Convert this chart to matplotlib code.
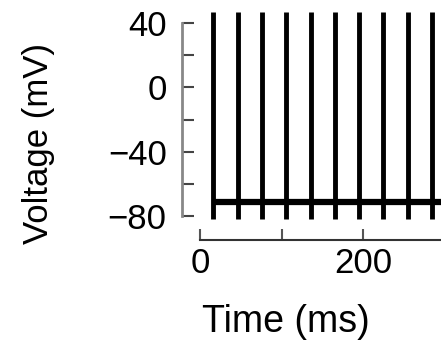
import matplotlib
matplotlib.use("Agg")
import matplotlib.pyplot as plt

# spike times (ms)
spike_times = [16.3, 46.9, 75.5, 105.3, 135.5, 165.2, 194.6, 223.6, 254.3, 283.6]
spike_top = 47      # mV, trace runs off the top
spike_bottom = -82  # mV, undershoot
baseline_mv = -71
t_end = 295

yticks_major = [-80, -40, 0, 40]
yticks_minor = [-60, -20, 20]
xticks_major = [0, 200]
xticks_minor = [100]

plt.rcParams['font.family'] = ['Liberation Sans', 'DejaVu Sans']

fig = plt.figure(figsize=(4.41, 3.42), dpi=100)
ax = fig.add_axes([182/441, 102/342, 259/441, 230/342])

# resting level
ax.plot([spike_times[0], t_end], [baseline_mv, baseline_mv], color='black', lw=4.5,
        solid_capstyle='butt', clip_on=False)
# spikes
for t in spike_times:
    ax.plot([t, t], [spike_bottom, spike_top], color='black', lw=3.5,
            solid_capstyle='butt', clip_on=False)

ax.set_xlim(-22, t_end)
ax.set_ylim(-94.9, 48.1)

ax.spines['top'].set_visible(False)
ax.spines['right'].set_visible(False)
ax.spines['left'].set_bounds(-80, 40)
ax.spines['bottom'].set_bounds(0, t_end)
ax.spines['left'].set_color('#888888')
ax.spines['left'].set_linewidth(2)
ax.spines['bottom'].set_color('#333333')
ax.spines['bottom'].set_linewidth(1.5)

ax.set_yticks(yticks_major)
ax.set_yticks(yticks_minor, minor=True)
ax.set_xticks(xticks_major)
ax.set_xticks(xticks_minor, minor=True)

ax.tick_params(axis='y', which='both', direction='in', length=8.6, width=1.5,
               color='#444444', labelsize=25, pad=11)
ax.tick_params(axis='x', which='both', direction='in', length=8, width=1.5,
               color='#555555', labelsize=25, pad=5)

ax.set_xlabel('Time (ms)', fontsize=27)
ax.xaxis.set_label_coords(0.40, -0.28)
ax.set_ylabel('Voltage (mV)', fontsize=25)
ax.yaxis.set_label_coords(-127/259, 0.42)

fig.savefig('out.png', dpi=100)
